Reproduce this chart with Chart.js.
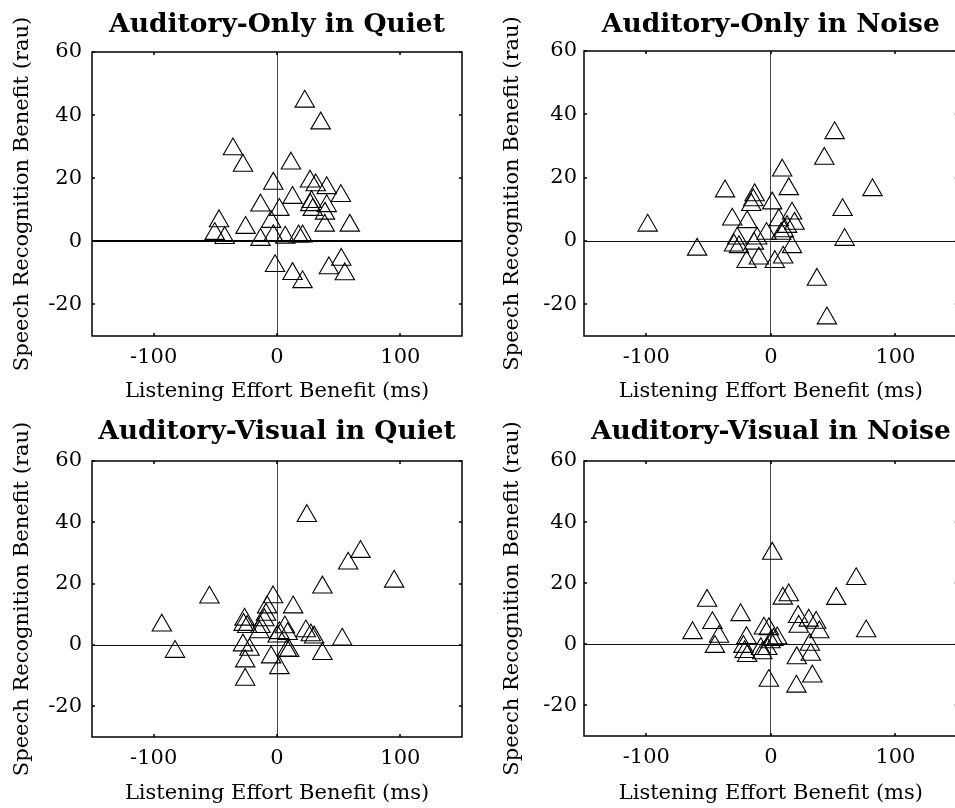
<!DOCTYPE html>
<html>
<head>
<meta charset="utf-8">
<script src="https://cdn.jsdelivr.net/npm/chart.js@4/dist/chart.umd.min.js"></script>
<style>
  html, body { margin: 0; padding: 0; background: #fff; overflow: hidden; }
  body { width: 955px; height: 808px; position: relative; }
  .panel { position: absolute; }
  .panel canvas { display: block; }
</style>
</head>
<body>
<div class="panel" id="p1"><canvas id="c1"></canvas></div>
<div class="panel" id="p2"><canvas id="c2"></canvas></div>
<div class="panel" id="p3"><canvas id="c3"></canvas></div>
<div class="panel" id="p4"><canvas id="c4"></canvas></div>
<script>
// Axis ticks shared by all four panels
const xTicks = [-100, 0, 100];
const yTicks = [-20, 0, 20, 40, 60];
const xLimits = [-150, 150];
const yLimits = [-30, 60];

const panelTitles = [
  'Auditory-Only in Quiet',
  'Auditory-Only in Noise',
  'Auditory-Visual in Quiet',
  'Auditory-Visual in Noise'
];
const xAxisTitle = 'Listening Effort Benefit (ms)';
const yAxisTitle = 'Speech Recognition Benefit (rau)';

// Auditory-only, quiet
const effortAOQuiet = [22.5, 35.4, -35.7, -27.6, 11.3, -3, 26.8, 31.4, 40.3, 51.8, 12.6, 40.3, -13.4, 1.9, 38.9, 38.7, 59, -4.8, -47, -25.5, -50.5, -42.4, -13.4, -3, 6.7, 17.5, 20.7, -1.6, 12.6, 20.7, 42.1, 52.1, 55, 28, 27, 29];
const speechAOQuiet = [44.3, 37.4, 29.2, 24.0, 24.7, 18.3, 19.0, 17.8, 16.9, 14.4, 13.8, 11.2, 11.4, 10.0, 8.8, 5.0, 5.0, 6.2, 6.4, 4.3, 2.4, 1.1, 0.5, 1.7, 1.2, 1.6, 1.6, -7.8, -10.3, -12.9, -8.5, -5.8, -10.4, 12.5, 11.5, 10];

// Auditory-only, noise
const effortAONoise = [-98.9, -59.2, -36.8, -13, -14.1, -15.7, 9.1, 14.4, 1.1, -31, -19, 17, 6.4, 19, 13, 10.4, 8.3, -3.5, -27, -11, -29.6, -25.6, -13.6, 17, -19.5, -9.6, 9.9, 3.2, 37, 45, 51.2, 42.9, 81.6, 57.6, 59.2];
const speechAONoise = [4.9, -2.7, 15.7, 14.5, 12.9, 11.4, 22.3, 16.4, 11.9, 6.8, 6.0, 8.7, 6.6, 5.5, 4.5, 3.1, 2.3, 2.3, 0.8, 0.8, -1.4, -1.9, -0.8, -1.9, -6.6, -5.5, -5.2, -6.6, -12.2, -24.4, 34.1, 26.0, 16.1, 9.8, 0.4];

// Auditory-visual, quiet
const effortAVQuiet = [24.2, 67.7, 57.7, 95, 36.8, -54.8, -3.2, 13.1, -8, -8.9, -10.2, -93.4, -82.7, -26.3, -27.1, -24.2, -13.4, -14.2, 6.4, 1.9, 0.5, 8.6, 23.4, 27.4, 30.1, 52.9, -27.6, -22.3, 8.1, 9.9, -4.8, 36.8, -25.8, 1.9, -25.8];
const speechAVQuiet = [42.1, 30.4, 26.6, 20.7, 18.8, 15.5, 15.6, 12.3, 12.3, 9.9, 8.1, 6.4, -2.2, 8.3, 6.6, 5.9, 5.9, 4.2, 5.8, 3.9, 2.8, 3.6, 4.5, 3.2, 2.5, 1.8, -0.1, -1.5, -1.8, -1.9, -4.0, -2.9, -5.3, -7.5, -11.3];

// Auditory-visual, noise
const effortAVNoise = [1.1, 68.5, -51.2, 52.5, 14.4, 9.6, -24.3, -46.9, -62.9, -41.6, -44.9, 76.5, 21.9, 22.4, 30.4, 36.4, 38.9, 31.3, 32.1, 20.8, 33.3, 20.5, -1.6, -19.5, -22, -21, -19, -5.6, -1.6, 5.1, -0.3, -2.9, -6.9, 2, -8];
const speechAVNoise = [29.7, 21.4, 14.3, 14.9, 16.1, 15, 9.6, 7, 3.7, 2.5, -0.8, 4.3, 9.0, 5.8, 7.8, 7.1, 4.0, -0.1, -3.4, -4.5, -10.5, -13.8, -11.9, 2.1, -0.8, -2.5, -3.8, 5.2, 5.0, 2.0, 0.7, -1.5, -2.9, 1.5, -1.5];

const serif = '"DejaVu Serif", "Liberation Serif", serif';
const titleSize = 26.5;
const labelSize = 21;
const tickSize = 21;

// Frame box with short inward tick marks on all four sides
const framePlugin = {
  id: 'frame',
  afterDatasetsDraw(chart) {
    const { ctx, chartArea: a, scales: { x, y } } = chart;
    ctx.save();
    ctx.strokeStyle = '#000';
    ctx.lineWidth = 1.5;
    ctx.strokeRect(a.left, a.top, a.right - a.left, a.bottom - a.top);
    const len = 3;
    ctx.beginPath();
    xTicks.forEach(v => {
      const px = Math.round(x.getPixelForValue(v));
      ctx.moveTo(px, a.top); ctx.lineTo(px, a.top + len);
      ctx.moveTo(px, a.bottom); ctx.lineTo(px, a.bottom - len);
    });
    yTicks.forEach(v => {
      const py = Math.round(y.getPixelForValue(v));
      ctx.moveTo(a.left, py); ctx.lineTo(a.left + len, py);
      ctx.moveTo(a.right, py); ctx.lineTo(a.right - len, py);
    });
    ctx.stroke();
    ctx.restore();
  }
};

function makePanel(canvasId, divId, geom, title, xs, ys, zeroStyle) {
  const div = document.getElementById(divId);
  div.style.left = geom.left + 'px';
  div.style.top = geom.top + 'px';
  const cv = document.getElementById(canvasId);
  cv.width = geom.width; cv.height = geom.height;
  cv.style.width = geom.width + 'px'; cv.style.height = geom.height + 'px';

  const points = xs.map((v, i) => ({ x: v, y: ys[i] }));
  const titleLine = titleSize * 1.2;
  const titleBottom = geom.area.top - geom.titleTop - titleLine;

  return new Chart(cv, {
    type: 'scatter',
    data: {
      datasets: [{
        data: points,
        pointStyle: 'triangle',
        pointRadius: 11.2,
        pointHoverRadius: 11.2,
        borderColor: '#000',
        backgroundColor: 'rgba(0,0,0,0)',
        borderWidth: 1.1
      }]
    },
    plugins: [framePlugin],
    options: {
      responsive: false,
      animation: false,
      events: [],
      layout: {
        padding: { left: 0, top: 0, right: geom.width - geom.area.right, bottom: 0 }
      },
      plugins: {
        legend: { display: false },
        tooltip: { enabled: false },
        title: {
          display: true,
          fullSize: false,
          text: title,
          color: '#000',
          font: { family: serif, size: titleSize, weight: 'bold', lineHeight: 1.2 },
          padding: { top: geom.titleTop, bottom: titleBottom }
        }
      },
      scales: {
        x: {
          type: 'linear',
          min: xLimits[0], max: xLimits[1],
          afterBuildTicks: s => { s.ticks = xTicks.map(v => ({ value: v })); },
          afterFit: s => { s.height = geom.height - geom.area.bottom; },
          border: { display: false },
          grid: {
            drawTicks: false,
            color: c => (c.tick && c.tick.value === 0) ? zeroStyle.vColor : 'rgba(0,0,0,0)',
            lineWidth: c => (c.tick && c.tick.value === 0) ? zeroStyle.vWidth : 0
          },
          ticks: {
            color: '#000',
            padding: 9,
            font: { family: serif, size: tickSize },
            callback: v => String(v)
          },
          title: {
            display: true,
            text: xAxisTitle,
            color: '#000',
            font: { family: serif, size: labelSize },
            padding: { top: 0, bottom: geom.xTitleBottom }
          }
        },
        y: {
          type: 'linear',
          min: yLimits[0], max: yLimits[1],
          afterBuildTicks: s => { s.ticks = yTicks.map(v => ({ value: v })); },
          afterFit: s => { s.width = geom.area.left; },
          border: { display: false },
          grid: {
            drawTicks: false,
            color: c => (c.tick && c.tick.value === 0) ? zeroStyle.hColor : 'rgba(0,0,0,0)',
            lineWidth: c => (c.tick && c.tick.value === 0) ? zeroStyle.hWidth : 0
          },
          ticks: {
            color: '#000',
            padding: geom.yTickPad,
            font: { family: serif, size: tickSize },
            callback: v => String(v)
          },
          title: {
            display: true,
            text: yAxisTitle,
            color: '#000',
            font: { family: serif, size: labelSize },
            padding: { top: geom.yTitleLeft, bottom: 0 }
          }
        }
      }
    }
  });
}

const thinZero = { vColor: '#444', vWidth: 1, hColor: '#111', hWidth: 1 };
const boldZero = { vColor: '#444', vWidth: 1, hColor: '#000', hWidth: 2 };

makePanel('c1', 'p1', { left: 0, top: 0, width: 480, height: 410, area: { left: 92, top: 52, right: 462, bottom: 336 }, titleTop: 9, xTitleBottom: 5.4, yTitleLeft: 9.5, yTickPad: 10 }, panelTitles[0], effortAOQuiet, speechAOQuiet, boldZero);
makePanel('c2', 'p2', { left: 480, top: 0, width: 490, height: 410, area: { left: 104, top: 51, right: 479, bottom: 336 }, titleTop: 9, xTitleBottom: 5.4, yTitleLeft: 19.5, yTickPad: 7 }, panelTitles[1], effortAONoise, speechAONoise, thinZero);
makePanel('c3', 'p3', { left: 0, top: 400, width: 480, height: 408, area: { left: 92, top: 61, right: 462, bottom: 337 }, titleTop: 16, xTitleBottom: 1.4, yTitleLeft: 9.5, yTickPad: 10 }, panelTitles[2], effortAVQuiet, speechAVQuiet, thinZero);
makePanel('c4', 'p4', { left: 480, top: 400, width: 490, height: 408, area: { left: 104, top: 61, right: 479, bottom: 336 }, titleTop: 16, xTitleBottom: 1.4, yTitleLeft: 19.5, yTickPad: 7 }, panelTitles[3], effortAVNoise, speechAVNoise, thinZero);
</script>
</body>
</html>
